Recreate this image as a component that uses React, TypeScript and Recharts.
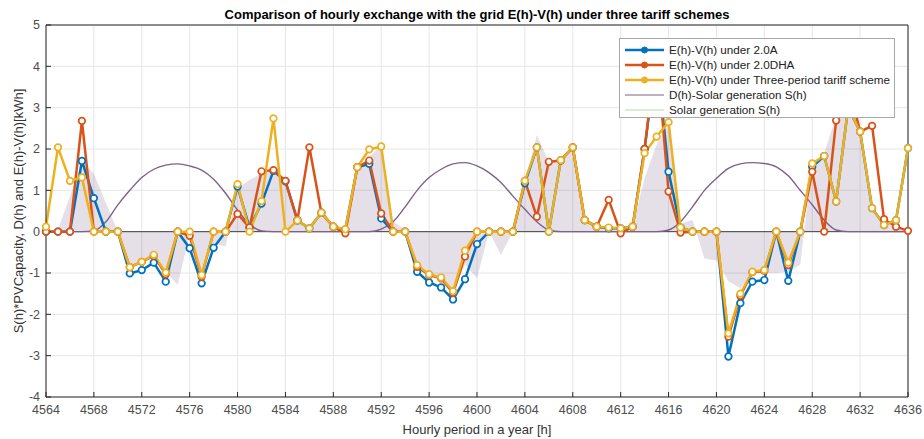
import {
  ComposedChart,
  Line,
  Area,
  XAxis,
  YAxis,
  CartesianGrid,
  Legend,
  ReferenceLine,
} from "recharts"

const hours = [
  4564, 4565, 4566, 4567, 4568, 4569, 4570, 4571, 4572, 4573,
  4574, 4575, 4576, 4577, 4578, 4579, 4580, 4581, 4582, 4583,
  4584, 4585, 4586, 4587, 4588, 4589, 4590, 4591, 4592, 4593,
  4594, 4595, 4596, 4597, 4598, 4599, 4600, 4601, 4602, 4603,
  4604, 4605, 4606, 4607, 4608, 4609, 4610, 4611, 4612, 4613,
  4614, 4615, 4616, 4617, 4618, 4619, 4620, 4621, 4622, 4623,
  4624, 4625, 4626, 4627, 4628, 4629, 4630, 4631, 4632, 4633,
  4634, 4635, 4636,
]

// E(h)-V(h) under 2.0A
const tariff20A = [
  0, 0, 0, 1.71, 0.81, 0, 0, -1.01, -0.93, -0.75,
  -1.21, 0, -0.4, -1.25, -0.39, 0, 1.09, 0.1, 0.68, 1.47,
  1.22, 0.27, 0.08, 0.46, 0.12, 0.05, 1.56, 1.64, 0.32, 0,
  0, -0.97, -1.23, -1.35, -1.64, -1.15, -0.3, 0, 0, 0,
  1.17, 2.04, 0, 1.73, 2.04, 0.28, 0.12, 0.08, 0.08, 0.12,
  2.0, 4.3, 1.45, 0.1, 0, 0, 0, -3.02, -1.73, -1.21,
  -1.17, 0, -1.19, 0, 1.57, 1.83, 0.73, 3.0, 2.42, 0.57,
  0.16, 0.28, 2.02,
]

// E(h)-V(h) under 2.0DHA
const tariff20DHA = [
  0, 0, 0, 2.68, 0, 0, 0, -0.86, -0.73, -0.58,
  -1.03, 0, -0.1, -1.09, 0, 0, 0.43, 0.1, 1.46, 1.49,
  1.23, 0.28, 2.04, 0.46, 0.12, -0.04, 1.56, 1.72, 0.44, 0,
  0, -0.85, -1.05, -1.13, -1.48, -0.6, 0, 0, 0, 0,
  1.23, 0.36, 1.69, 1.72, 2.04, 0.28, 0.12, 0.77, -0.04, 0.12,
  2.0, 4.4, 0.97, -0.02, 0, 0, 0, -2.54, -1.55, -0.98,
  -0.95, 0, -0.81, 0, 1.45, 0, 2.69, 3.6, 2.42, 2.56,
  0.3, 0.12, 0.02,
]

// E(h)-V(h) under three-period tariff
const threePeriod = [
  0.12, 2.04, 1.23, 1.31, 0, 0, 0, -0.86, -0.73, -0.56,
  -0.99, 0, 0, -1.05, 0, 0, 1.15, 0, 0.74, 2.74,
  0, 0.27, 0.08, 0.46, 0.12, 0.06, 1.56, 1.99, 2.06, 0,
  0, -0.81, -1.03, -1.11, -1.44, -0.46, 0, 0, 0, 0,
  1.23, 2.04, 0, 1.73, 2.04, 0.28, 0.12, 0.1, 0.08, 0.12,
  1.9, 2.3, 2.65, 0.1, 0, 0, 0, -2.46, -1.5, -0.97,
  -0.93, 0, -0.75, 0, 1.65, 1.83, 0.73, 3.0, 2.42, 0.57,
  0.16, 0.28, 2.02,
]

// solar hump (purple line)
const solarCurve = [
  0, 0, 0, 0, 0.02, 0.24, 0.65, 1.0, 1.31, 1.51,
  1.61, 1.64, 1.59, 1.49, 1.27, 0.93, 0.52, 0.18, 0.02, 0,
  0, 0, 0, 0, 0, 0, 0, 0, 0.06, 0.24,
  0.6, 1.0, 1.31, 1.51, 1.64, 1.67, 1.59, 1.43, 1.19, 0.86,
  0.54, 0.24, 0.04, 0, 0, 0, 0, 0, 0, 0,
  0, 0, 0.04, 0.24, 0.6, 1.0, 1.29, 1.53, 1.64, 1.67,
  1.65, 1.57, 1.35, 1.0, 0.65, 0.28, 0.04, 0, 0, 0,
  0, 0, 0,
]

// shaded area D(h)-S(h)
const netDemand = [
  0, 0.05, 0.85, 1.7, 1.4, 0.7, 0, -0.8, -0.75, -0.55,
  -0.95, -1.29, -0.05, -1.0, -0.3, -0.35, 1.05, 1.25, 1.41, 1.49,
  1.25, 0.28, 0.1, 0.46, 0.12, 0.05, 1.56, 1.8, 2.1, 0.24,
  0.05, -0.77, -1.0, -1.1, -1.4, -0.8, -1.13, 0, -0.56, 0,
  1.2, 2.34, 1.7, 1.75, 2.04, 0.28, 0.12, 0.1, 0.05, 0.12,
  1.3, 2.1, 2.6, 0.2, 0.28, -0.65, -0.7, -1.2, -1.37, -1.0,
  -1.0, -1.0, -0.97, -0.8, 1.65, 1.9, 2.8, 3.1, 2.45, 0.6,
  0.2, 0.12, 0,
]

const xTicks = [4564, 4568, 4572, 4576, 4580, 4584, 4588, 4592, 4596, 4600, 4604, 4608, 4612, 4616, 4620, 4624, 4628, 4632, 4636]
const yTicks = [-4, -3, -2, -1, 0, 1, 2, 3, 4, 5]

const COLORS = {
  a: "#0072bd",
  dha: "#d95319",
  three: "#edb120",
  solar: "#7e6188",
  green: "#b9dca0",
}

const legendItems = [
  { label: "E(h)-V(h) under 2.0A", color: COLORS.a, marker: true },
  { label: "E(h)-V(h) under 2.0DHA", color: COLORS.dha, marker: true },
  { label: "E(h)-V(h) under Three-period tariff scheme", color: COLORS.three, marker: true },
  { label: "D(h)-Solar generation S(h)", color: COLORS.solar, marker: false },
  { label: "Solar generation S(h)", color: COLORS.green, marker: false },
]

const chartData = hours.map((hour, i) => ({
  hour,
  a: tariff20A[i],
  dha: tariff20DHA[i],
  three: threePeriod[i],
  solar: solarCurve[i],
  net: netDemand[i],
}))

function LegendBox() {
  return (
    <div
      style={{
        boxSizing: "border-box",
        width: 276,
        height: 80,
        border: "1px solid #a8a8a8",
        background: "#fff",
        padding: "3px 0 0 5px",
        fontSize: 11.7,
        color: "#222",
      }}
    >
      {legendItems.map((item) => (
        <div key={item.label} style={{ display: "flex", alignItems: "center", height: 15 }}>
          <svg width={39} height={10}>
            <line
              x1={0}
              x2={39}
              y1={5}
              y2={5}
              stroke={item.color}
              strokeWidth={item.marker ? 2.5 : 1}
            />
            {item.marker && <circle cx={19.5} cy={5} r={3} fill={item.color} stroke={item.color} />}
          </svg>
          <span style={{ marginLeft: 5, whiteSpace: "nowrap" }}>{item.label}</span>
        </div>
      ))}
    </div>
  )
}

const dotStyle = (color: string) => ({ r: 3.3, strokeWidth: 1.7, fill: "#fff", stroke: color })

export default function App() {
  return (
    <div
      style={{
        position: "absolute",
        left: 0,
        top: 0,
        width: 924,
        height: 439,
        background: "#fff",
        fontFamily: '"Liberation Sans", Arial, sans-serif',
      }}
    >
      <ComposedChart
        width={924}
        height={439}
        data={chartData}
        margin={{ top: 25, right: 16, bottom: 5, left: 6 }}
      >
        <CartesianGrid stroke="#e6e6e6" />
        <XAxis
          dataKey="hour"
          type="number"
          domain={[4564, 4636]}
          ticks={xTicks}
          height={37}
          tickSize={-5}
          tickMargin={13}
          stroke="#262626"
          tick={{ fill: "#4d4d4d", fontSize: 12.5 }}
          label={{ value: "Hourly period in a year [h]", position: "insideBottom", offset: 0, fill: "#333", fontSize: 13 }}
        />
        <YAxis
          type="number"
          domain={[-4, 5]}
          ticks={yTicks}
          width={40}
          tickSize={-5}
          tickMargin={11}
          stroke="#262626"
          tick={{ fill: "#4d4d4d", fontSize: 12.5 }}
          label={{
            value: "S(h)*PVCapacity, D(h) and E(h)-V(h)[kWh]",
            angle: -90,
            position: "insideLeft",
            offset: 12,
            fill: "#333",
            fontSize: 13,
            style: { textAnchor: "middle" },
          }}
        />
        <ReferenceLine y={5} stroke="#262626" />
        <ReferenceLine x={4636} stroke="#262626" />
        <Area
          dataKey="net"
          type="linear"
          stroke="none"
          fill="#7e5e8a"
          fillOpacity={0.2}
          baseValue={0}
          isAnimationActive={false}
          legendType="none"
        />
        <ReferenceLine y={0} stroke="#404040" />
        <Line
          dataKey="solar"
          type="monotone"
          stroke={COLORS.solar}
          strokeWidth={1.4}
          dot={false}
          activeDot={false}
          isAnimationActive={false}
        />
        <Line
          dataKey="a"
          type="linear"
          stroke={COLORS.a}
          strokeWidth={2.5}
          dot={dotStyle(COLORS.a)}
          activeDot={false}
          isAnimationActive={false}
        />
        <Line
          dataKey="dha"
          type="linear"
          stroke={COLORS.dha}
          strokeWidth={2.5}
          dot={dotStyle(COLORS.dha)}
          activeDot={false}
          isAnimationActive={false}
        />
        <Line
          dataKey="three"
          type="linear"
          stroke={COLORS.three}
          strokeWidth={2.5}
          dot={dotStyle(COLORS.three)}
          activeDot={false}
          isAnimationActive={false}
        />
        <Legend
          layout="vertical"
          align="center"
          verticalAlign="middle"
          content={() => <LegendBox />}
          wrapperStyle={{ left: 619, top: 38, width: 276, height: 80 }}
        />
      </ComposedChart>
      <div
        style={{
          position: "absolute",
          top: 6,
          left: 46,
          width: 862,
          textAlign: "center",
          fontWeight: "bold",
          fontSize: 13,
          lineHeight: "18px",
          color: "#000",
        }}
      >
        Comparison of hourly exchange with the grid E(h)-V(h) under three tariff schemes
      </div>
    </div>
  )
}
